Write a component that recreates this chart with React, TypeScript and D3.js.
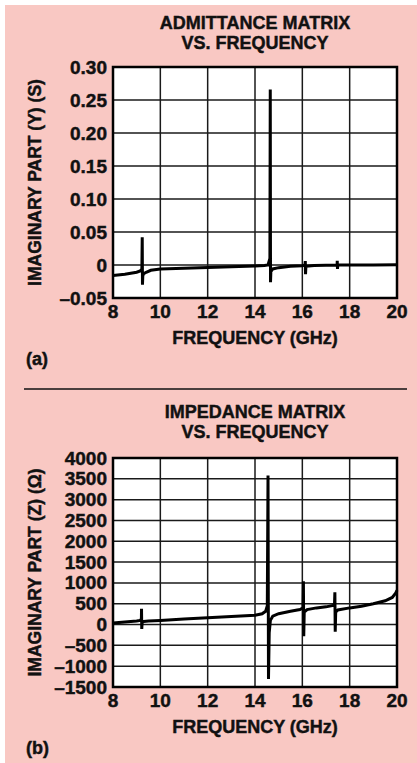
import React from 'react';
import * as d3 from 'd3';

// admittance matrix, imaginary part (S)
const admFreq = [8.0, 8.5, 9.0, 9.15, 9.22, 9.235, 9.245, 9.26, 9.3, 9.4, 9.6, 10.0, 11.0, 12.0, 13.0, 14.0, 14.4, 14.55, 14.63, 14.645, 14.655, 14.67, 14.75, 15.0, 15.5, 16.0, 16.11, 16.125, 16.135, 16.15, 16.5, 17.0, 17.47, 17.475, 17.485, 17.5, 18.0, 19.0, 20.0];
const admImag = [-0.016, -0.014, -0.011, -0.009, -0.006, 0.042, -0.03, -0.016, -0.013, -0.011, -0.008, -0.006, -0.0048, -0.0038, -0.0026, -0.0015, -0.0008, 0.0, 0.01, 0.266, -0.026, -0.01, -0.006, -0.004, -0.002, -0.001, 0.0, 0.006, -0.014, -0.002, -0.0008, -0.0005, 0.0, 0.0065, -0.006, 0.0, 0.0, 0.0, 0.0005];

// impedance matrix, imaginary part (ohm)
const impFreq = [8.0, 8.5, 9.0, 9.15, 9.2, 9.205, 9.215, 9.23, 9.3, 9.5, 10.0, 11.0, 12.0, 13.0, 14.0, 14.3, 14.45, 14.52, 14.55, 14.57, 14.6, 14.65, 14.75, 15.0, 15.5, 15.9, 16.03, 16.045, 16.06, 16.08, 16.2, 16.6, 17.0, 17.3, 17.36, 17.375, 17.39, 17.41, 17.5, 18.0, 18.5, 19.0, 19.5, 19.8, 19.95, 20.0];
const impImag = [40, 60, 85, 100, 130, 377, -105, 50, 75, 85, 100, 135, 165, 195, 225, 260, 320, 450, 3580, -1305, -200, 100, 200, 260, 320, 360, 400, 1040, -280, 300, 360, 400, 425, 460, 500, 776, -175, 300, 350, 400, 440, 500, 570, 650, 760, 824];

const xTicks = [8, 10, 12, 14, 16, 18, 20];
const admTicks = [-0.05, 0, 0.05, 0.1, 0.15, 0.2, 0.25, 0.3];
const admTickLabels = ['–0.05', '0', '0.05', '0.10', '0.15', '0.20', '0.25', '0.30'];
const impTicks = [-1500, -1000, -500, 0, 500, 1000, 1500, 2000, 2500, 3000, 3500, 4000];
const impTickLabels = ['–1500', '–1000', '–500', '0', '500', '1000', '1500', '2000', '2500', '3000', '3500', '4000'];

const font = '"Liberation Sans", Arial, sans-serif';
const ink = '#111';

type PanelProps = {
  top: number;
  bottom: number;
  title: string[];
  titleY: number;
  yLabel: string;
  yTicks: number[];
  yTickLabels: string[];
  freq: number[];
  values: number[];
  tag: string;
};

const Panel = ({ top, bottom, title, titleY, yLabel, yTicks, yTickLabels, freq, values, tag }: PanelProps) => {
  const left = 113;
  const right = 397;

  const x = d3.scaleLinear().domain([8, 20]).range([left, right]);
  const y = d3.scaleLinear()
    .domain([yTicks[0], yTicks[yTicks.length - 1]])
    .range([bottom, top]);

  const line = d3.line<number>()
    .x((d, i) => x(freq[i]))
    .y(d => y(d));

  const midX = (left + right) / 2;
  // a thin outline makes the bold face a bit heavier, like the print
  const heavy = { stroke: ink, strokeWidth: 0.45 };

  return (
    <g fontFamily={font} fontWeight="bold" fill={ink}>
      {title.map((t, i) => (
        <text key={t} x={midX} y={titleY + i * 20} textAnchor="middle" fontSize={18} {...heavy}>{t}</text>
      ))}

      <rect x={left} y={top} width={right - left} height={bottom - top} fill="#fff" />

      {/* grid */}
      {yTicks.map(t => (
        <line key={'gy' + t} x1={left} x2={right} y1={y(t)} y2={y(t)} stroke="#1a1a1a" strokeWidth={1.5} />
      ))}
      {xTicks.map(t => (
        <line key={'gx' + t} x1={x(t)} x2={x(t)} y1={top} y2={bottom} stroke="#1a1a1a" strokeWidth={1.5} />
      ))}

      <path d={line(values) ?? ''} fill="none" stroke="#000" strokeWidth={3} strokeLinejoin="miter" />

      <rect x={left} y={top} width={right - left} height={bottom - top} fill="none" stroke="#000" strokeWidth={2.5} />

      {/* y tick labels */}
      {yTicks.map((t, i) => (
        <text key={'ty' + t} x={left - 6} y={y(t) + 6.5} textAnchor="end" fontSize={19} {...heavy}>{yTickLabels[i]}</text>
      ))}

      {/* x tick labels */}
      {xTicks.map(t => (
        <text key={'tx' + t} x={x(t)} y={bottom + 19.5} textAnchor="middle" fontSize={19} {...heavy}>{t}</text>
      ))}

      <text x={midX} y={bottom + 46} textAnchor="middle" fontSize={18} {...heavy}>FREQUENCY (GHz)</text>

      <text transform={`translate(41,${(top + bottom) / 2}) rotate(-90)`} textAnchor="middle" fontSize={17.5} {...heavy}>{yLabel}</text>

      <text x={26} y={bottom + 67} fontSize={18} {...heavy}>{tag}</text>
    </g>
  );
};

const App = () => {
  return (
    <svg width={417} height={763} style={{ position: 'absolute', left: 0, top: 0 }}>
      <rect x={0} y={0} width={417} height={763} fill="#fff" />
      <rect x={5} y={5} width={412} height={758} fill="#f9c8c3" />

      <Panel
        top={67}
        bottom={298}
        title={['ADMITTANCE MATRIX', 'VS. FREQUENCY']}
        titleY={29}
        yLabel="IMAGINARY PART (Y) (S)"
        yTicks={admTicks}
        yTickLabels={admTickLabels}
        freq={admFreq}
        values={admImag}
        tag="(a)"
      />

      <line x1={24} x2={407} y1={389} y2={389} stroke={ink} strokeWidth={1.5} />

      <Panel
        top={458}
        bottom={687}
        title={['IMPEDANCE MATRIX', 'VS. FREQUENCY']}
        titleY={418}
        yLabel="IMAGINARY PART (Z) (Ω)"
        yTicks={impTicks}
        yTickLabels={impTickLabels}
        freq={impFreq}
        values={impImag}
        tag="(b)"
      />
    </svg>
  );
};

export default App;
